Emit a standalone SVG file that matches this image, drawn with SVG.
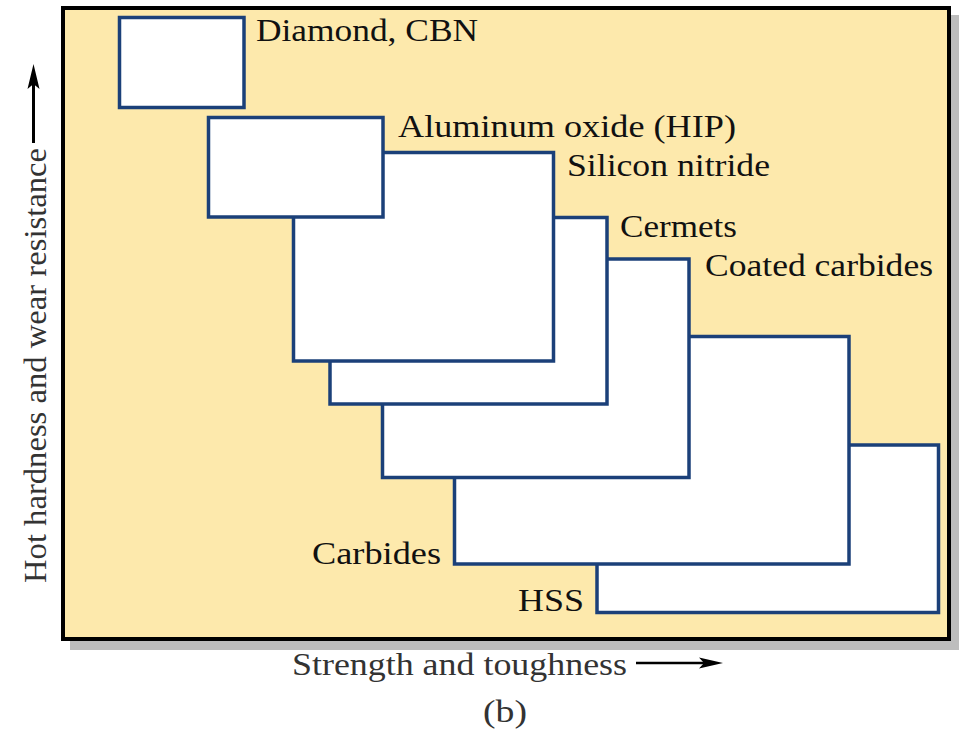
<svg xmlns="http://www.w3.org/2000/svg" width="959" height="731" viewBox="0 0 959 731">
<style>
.box{fill:#ffffff;stroke:#1b4079;stroke-width:3.5}
.lbl{font-family:"Liberation Serif","Times New Roman",serif;font-size:32px;fill:#111}
.ax{font-family:"Liberation Serif","Times New Roman",serif;font-size:32px;fill:#333}
</style>
<rect width="959" height="731" fill="#ffffff"/>
<g id="frame">
<rect x="70" y="15" width="889" height="635" fill="#bdbdbd"/>
<rect x="63" y="8" width="886" height="631" fill="#fde9ac" stroke="#000" stroke-width="4"/>
</g>
<g id="hss"><rect class="box" x="597" y="445" width="341.5" height="167.5"/><text class="lbl" x="518" y="611" textLength="66" lengthAdjust="spacingAndGlyphs">HSS</text></g>
<g id="carbides"><rect class="box" x="454.5" y="336.5" width="394.5" height="227.5"/><text class="lbl" x="312" y="564" textLength="129" lengthAdjust="spacingAndGlyphs">Carbides</text></g>
<g id="coated"><rect class="box" x="382.5" y="259" width="306.5" height="218.5"/><text class="lbl" x="705" y="276" textLength="228" lengthAdjust="spacingAndGlyphs">Coated carbides</text></g>
<g id="cermets"><rect class="box" x="330" y="217.5" width="277" height="186.5"/><text class="lbl" x="620" y="237" textLength="117" lengthAdjust="spacingAndGlyphs">Cermets</text></g>
<g id="silicon"><rect class="box" x="293.5" y="152.5" width="260" height="208.5"/><text class="lbl" x="567" y="176" textLength="203" lengthAdjust="spacingAndGlyphs">Silicon nitride</text></g>
<g id="alumina"><rect class="box" x="208.5" y="117.5" width="174.5" height="99.5"/><text class="lbl" x="398" y="137" textLength="338" lengthAdjust="spacingAndGlyphs">Aluminum oxide (HIP)</text></g>
<g id="diamond"><rect class="box" x="119.5" y="17.5" width="124.5" height="90"/><text class="lbl" x="256" y="41" textLength="222" lengthAdjust="spacingAndGlyphs">Diamond, CBN</text></g>
<g id="axes">
<text class="ax" x="292" y="675" textLength="335" lengthAdjust="spacingAndGlyphs">Strength and toughness</text>
<line x1="636" y1="663" x2="706" y2="663" stroke="#000" stroke-width="2.5"/>
<polygon points="723,663 699,657.5 704,663 699,668.5" fill="#000"/>
<text class="ax" transform="translate(46,583) rotate(-90)" x="0" y="0" textLength="435" lengthAdjust="spacingAndGlyphs">Hot hardness and wear resistance</text>
<line x1="33.5" y1="143" x2="33.5" y2="84" stroke="#000" stroke-width="3"/>
<polygon points="33.5,64 27.5,89 33.5,84 39.5,89" fill="#000"/>
<text class="ax" x="483" y="722" textLength="44" lengthAdjust="spacingAndGlyphs">(b)</text>
</g>
</svg>
